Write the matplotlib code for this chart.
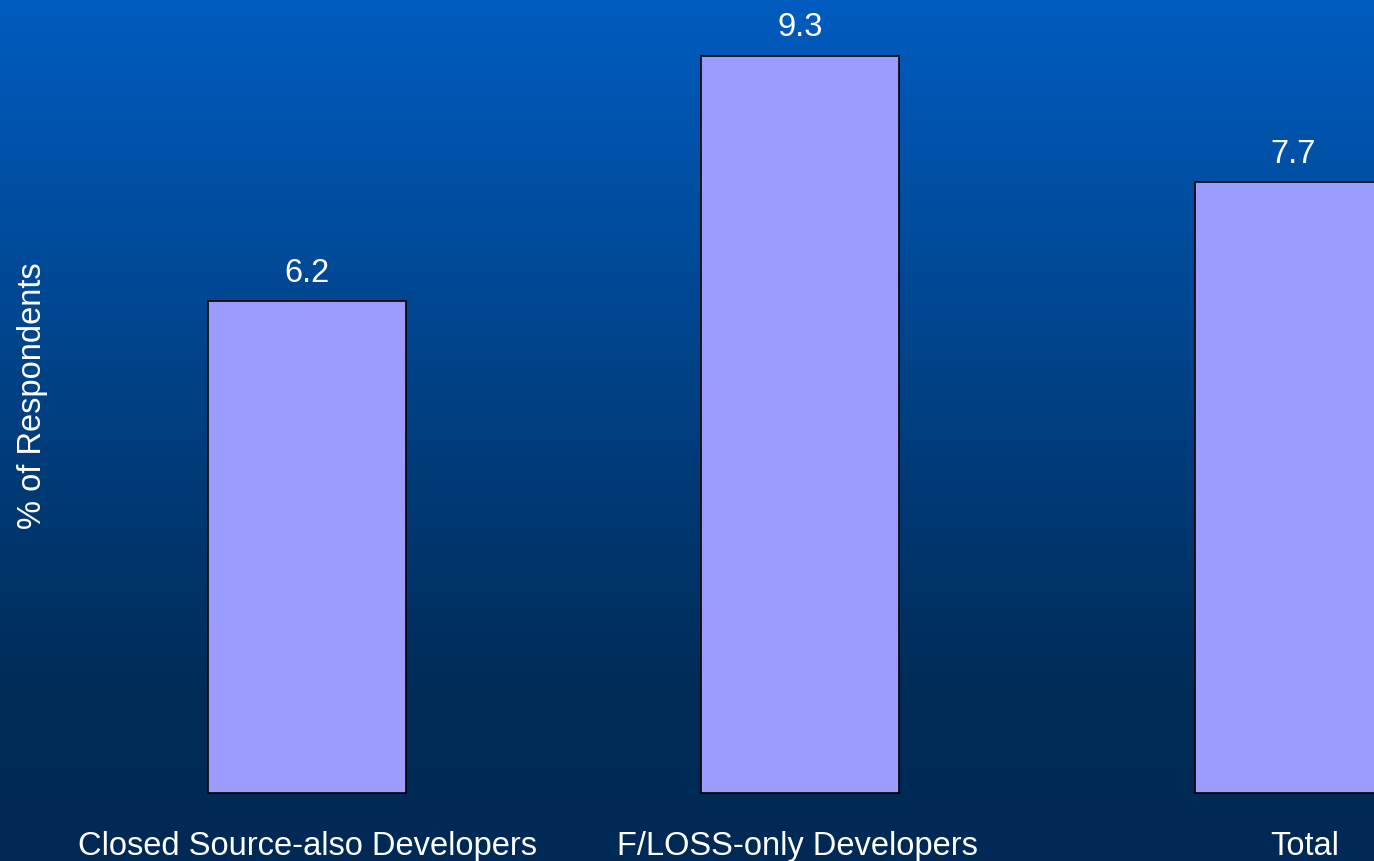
import numpy as np
import matplotlib
matplotlib.use("Agg")
import matplotlib.pyplot as plt
from matplotlib.colors import LinearSegmentedColormap

categories = ["Closed Source-also Developers", "F/LOSS-only Developers", "Total"]
values = [6.2, 9.3, 7.7]

plt.rcParams['font.family'] = ['Liberation Sans', 'DejaVu Sans']

fig = plt.figure(figsize=(13.74, 8.61), dpi=100)
ax = fig.add_axes([0, 0, 1, 1])

x = np.arange(len(categories))
xlim = (-0.6227, 2.164)
ylim = (-0.857, 10.0)

# gradient background, light blue at top to navy at bottom
cmap = LinearSegmentedColormap.from_list("bg", [(0.0, "#002a55"), (0.2, "#002c58"), (1.0, "#005cbf")])
grad = np.linspace(0, 1, 256).reshape(-1, 1)
ax.imshow(grad, cmap=cmap, aspect="auto", origin="lower",
          extent=[xlim[0], xlim[1], ylim[0], ylim[1]], zorder=0)

ax.bar(x, values, width=0.4, color="#9c9cff", edgecolor="black", linewidth=1.2, zorder=2)

for xi, v in zip(x, values):
    ax.text(xi, v + 0.35, f"{v}", ha="center", va="center", color="white", fontsize=23.5)

label_shift = [0.0, -0.006, 0.024]
for xi, c, s in zip(x, categories, label_shift):
    ax.text(xi + s, -0.67, c, ha="center", va="center", color="white", fontsize=23.5)

fig.text(0.0235, 0.54, "% of Respondents", rotation=90, ha="center", va="center",
         color="white", fontsize=23.5)

ax.set_xlim(*xlim)
ax.set_ylim(*ylim)
ax.axis("off")

fig.savefig("out.png", dpi=100)
